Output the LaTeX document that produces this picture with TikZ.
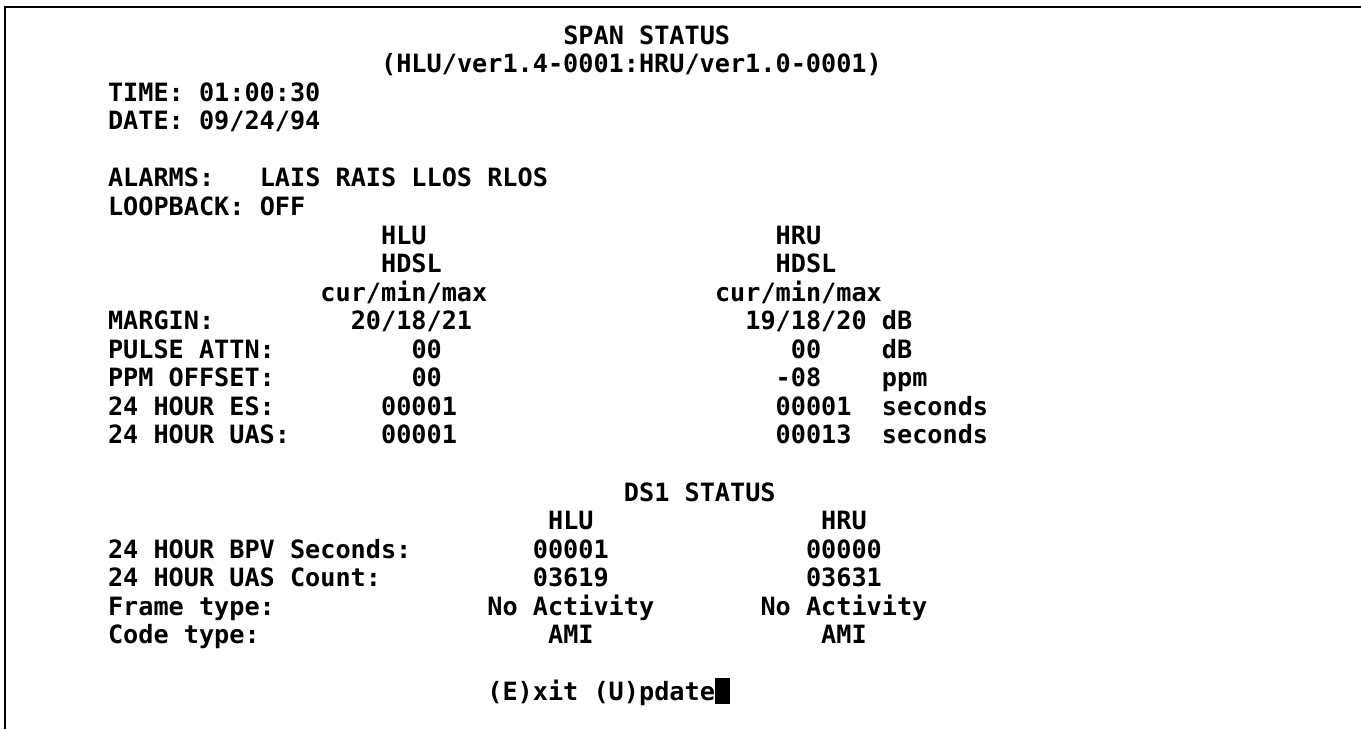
\documentclass[tikz,border=0pt]{standalone}
\usepackage{fontspec}
\newfontfamily\termfont{DejaVu Sans Mono}[BoldFont={DejaVu Sans Mono Bold}]
\tikzset{
  term/.style={anchor=base west, inner sep=0pt, outer sep=0pt,
    font=\termfont\bfseries\fontsize{25.2}{28}\selectfont, text=black},
  frameline/.style={line width=2.5pt, line join=miter},
  cursorblock/.style={fill=black, draw=none, inner sep=0pt, anchor=north west,
    minimum width=15pt, minimum height=26pt}
}
% place text on the 80-column terminal grid: name, column, row, text
\newcommand{\cellnode}[4]{\node[term] (#1) at ({1.775+15.175*#2},{-44.2-28.55*#3}) {#4};}
\begin{document}
\begin{tikzpicture}[x=1pt,y=1pt]
\useasboundingbox (0,0) rectangle (1361,-729);
\fill[white] (0,0) rectangle (1361,-729);
% screen frame
\draw[frameline] (5,-729) -- (5,-7) -- (1361,-7);

% header
\cellnode{title}{37}{0}{SPAN STATUS}
\cellnode{version}{25}{1}{(HLU/ver1.4-0001:HRU/ver1.0-0001)}
\cellnode{time}{7}{2}{TIME: 01:00:30}
\cellnode{date}{7}{3}{DATE: 09/24/94}
\cellnode{alarmslbl}{7}{5}{ALARMS:}
\cellnode{alarms}{17}{5}{LAIS RAIS LLOS RLOS}
\cellnode{loopbacklbl}{7}{6}{LOOPBACK:}
\cellnode{loopback}{17}{6}{OFF}

% HDSL span table
\cellnode{hluhead}{25}{7}{HLU}
\cellnode{hruhead}{51}{7}{HRU}
\cellnode{hludsl}{25}{8}{HDSL}
\cellnode{hrudsl}{51}{8}{HDSL}
\cellnode{hlucmm}{21}{9}{cur/min/max}
\cellnode{hrucmm}{47}{9}{cur/min/max}

\cellnode{marginlbl}{7}{10}{MARGIN:}
\cellnode{marginhlu}{23}{10}{20/18/21}
\cellnode{marginhru}{49}{10}{19/18/20}
\cellnode{marginunit}{58}{10}{dB}

\cellnode{pulselbl}{7}{11}{PULSE ATTN:}
\cellnode{pulsehlu}{27}{11}{00}
\cellnode{pulsehru}{52}{11}{00}
\cellnode{pulseunit}{58}{11}{dB}

\cellnode{ppmlbl}{7}{12}{PPM OFFSET:}
\cellnode{ppmhlu}{27}{12}{00}
\cellnode{ppmhru}{51}{12}{-08}
\cellnode{ppmunit}{58}{12}{ppm}

\cellnode{eslbl}{7}{13}{24 HOUR ES:}
\cellnode{eshlu}{25}{13}{00001}
\cellnode{eshru}{51}{13}{00001}
\cellnode{esunit}{58}{13}{seconds}

\cellnode{uaslbl}{7}{14}{24 HOUR UAS:}
\cellnode{uashlu}{25}{14}{00001}
\cellnode{uashru}{51}{14}{00013}
\cellnode{uasunit}{58}{14}{seconds}

% DS1 table
\cellnode{dstitle}{41}{16}{DS1 STATUS}
\cellnode{dshlu}{36}{17}{HLU}
\cellnode{dshru}{54}{17}{HRU}
\cellnode{bpvlbl}{7}{18}{24 HOUR BPV Seconds:}
\cellnode{bpvhlu}{35}{18}{00001}
\cellnode{bpvhru}{53}{18}{00000}
\cellnode{cntlbl}{7}{19}{24 HOUR UAS Count:}
\cellnode{cnthlu}{35}{19}{03619}
\cellnode{cnthru}{53}{19}{03631}
\cellnode{framelbl}{7}{20}{Frame type:}
\cellnode{framehlu}{32}{20}{No Activity}
\cellnode{framehru}{50}{20}{No Activity}
\cellnode{codelbl}{7}{21}{Code type:}
\cellnode{codehlu}{36}{21}{AMI}
\cellnode{codehru}{54}{21}{AMI}

% prompt line and cursor
\cellnode{prompt}{32}{23}{(E)xit (U)pdate}
\node[cursorblock] (cursor) at (715,-678) {};
\end{tikzpicture}
\end{document}
